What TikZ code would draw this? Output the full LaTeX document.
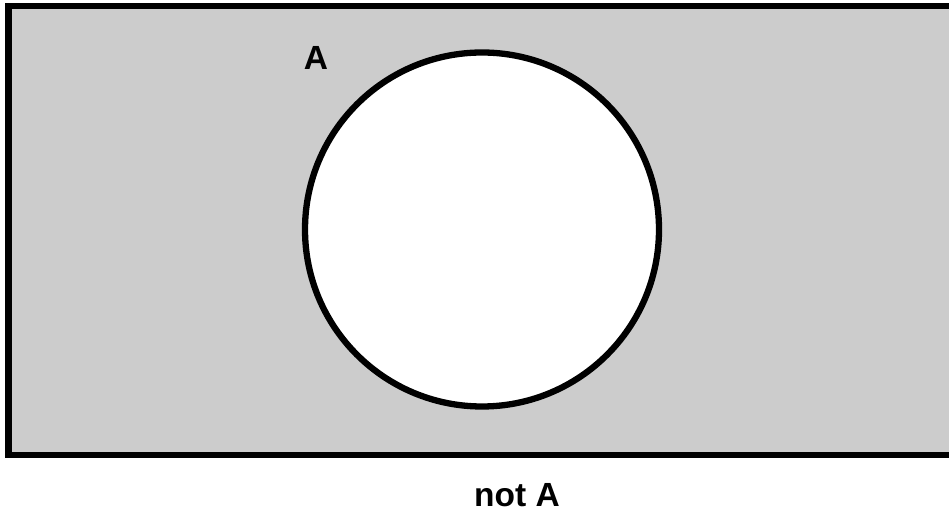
\documentclass[tikz,border=0pt]{standalone}
\usepackage{fontspec}
\setmainfont{Liberation Sans}
\usetikzlibrary{positioning}
\definecolor{vennfill}{HTML}{CCCCCC}
\begin{document}
\begin{tikzpicture}[x=1pt, y=1pt,
  every node/.style={font=\bfseries\fontsize{33.5}{40}\selectfont},
  setline/.style={draw=black, line width=6.3pt},
  setlabel/.style={inner sep=0pt}]
  \clip (0,0) rectangle (949,510);
  \useasboundingbox (0,0) rectangle (949,510);
  % universe and set A
  \path[setline, fill=vennfill] (8.5,55) rectangle (970,504);
  \node[setline, fill=white, circle, minimum size=354pt, inner sep=0pt] (setA) at (482,280.5) {};
  \node[setlabel] (labelA) at (316,452) {A};
  \node[setlabel] (labelNotA) at (517,14.5) {not A};
\end{tikzpicture}
\end{document}
